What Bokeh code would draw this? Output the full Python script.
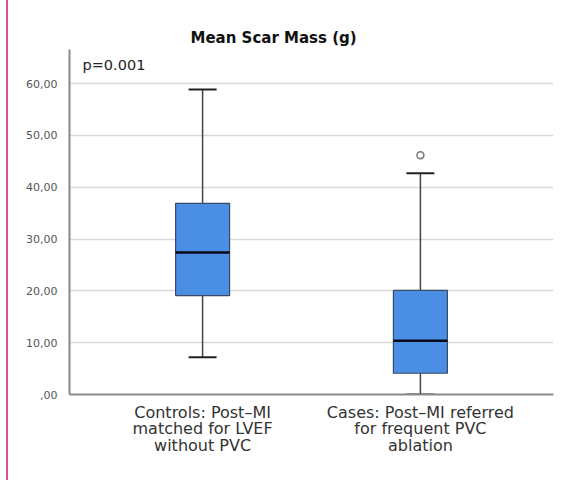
from bokeh.plotting import figure
from bokeh.models import Label, FactorRange, Range1d, Whisker, TeeHead, ColumnDataSource
from bokeh.embed import file_html
from bokeh.resources import INLINE

# ---- data ----
categories = ["Controls: Post\u2013MI\nmatched for LVEF\nwithout PVC",
              "Cases: Post\u2013MI referred\nfor frequent PVC\nablation"]
whisker_low = [7.2, 0.0]
q1 = [19.1, 4.1]
median = [27.4, 10.4]
q3 = [36.9, 20.1]
whisker_high = [58.9, 42.7]
outlier_cat = [categories[1]]
outlier_val = [46.2]
y_ticks = [0, 10, 20, 30, 40, 50, 60]
y_tick_labels = [",00", "10,00", "20,00", "30,00", "40,00", "50,00", "60,00"]
title_text = "Mean Scar Mass (g)"
p_value_text = "p=0.001"

src = ColumnDataSource(dict(cat=categories, low=whisker_low, q1=q1, med=median,
                            q3=q3, high=whisker_high))

p = figure(width=555, height=480, output_backend="svg", toolbar_location=None,
           x_range=FactorRange(factors=categories, range_padding=0.111,
                               range_padding_units="absolute"),
           y_range=Range1d(0, 66.6),
           min_border_left=61, min_border_right=10, min_border_top=49, min_border_bottom=86)
p.styles = {"margin-left": "6px", "border-left": "2px solid #d4529c"}

p.title.text = title_text
p.title.text_font = "DejaVu Sans"
p.title.text_font_size = "15px"
p.title.text_font_style = "bold"
p.title.text_color = "#111111"
p.title.align = "left"
p.title.offset = 121
p.title.standoff = 5

p.outline_line_color = None
p.background_fill_color = "white"
p.xgrid.grid_line_color = None
p.ygrid.grid_line_color = "#dadada"
p.ygrid.grid_line_width = 1.5

p.yaxis.ticker = y_ticks
p.yaxis.major_label_overrides = {t: l for t, l in zip(y_ticks, y_tick_labels)}
p.yaxis.major_tick_line_color = None
p.yaxis.minor_tick_line_color = None
p.yaxis.axis_line_color = "#8a8a8a"
p.yaxis.axis_line_width = 2
p.yaxis.major_label_text_font = "DejaVu Sans"
p.yaxis.major_label_text_font_size = "11px"
p.yaxis.major_label_text_color = "#555555"
p.yaxis.major_label_standoff = 6

p.xaxis.major_tick_line_color = None
p.xaxis.axis_line_color = "#8a8a8a"
p.xaxis.axis_line_width = 2
p.xaxis.major_label_text_font = "DejaVu Sans"
p.xaxis.major_label_text_font_size = "16px"
p.xaxis.major_label_text_color = "#333333"
p.xaxis.major_label_standoff = 2
p.xaxis.major_label_text_line_height = 0.87

# whiskers
up = Whisker(source=src, base="cat", lower="q3", upper="high",
             upper_head=TeeHead(size=28, line_color="#222222", line_width=2),
             lower_head=None, line_color="#444444", line_width=1.5)
lo = Whisker(source=src, base="cat", lower="low", upper="q1",
             lower_head=TeeHead(size=28, line_color="#222222", line_width=2),
             upper_head=None, line_color="#444444", line_width=1.5)
p.add_layout(up)
p.add_layout(lo)

# boxes
p.vbar(x="cat", width=0.248, top="q3", bottom="q1", source=src,
       fill_color="#4a8fe3", line_color="#3a4a66", line_width=1.2)
p.vbar(x="cat", width=0.248, top="med", bottom="med", source=src,
       fill_color=None, line_color="#0a0a1a", line_width=2.5)

# outlier
p.scatter(x=outlier_cat, y=outlier_val, marker="circle", size=7,
          fill_color="white", line_color="#777777", line_width=1.5)

p.add_layout(Label(x=13, y=63.6, x_units="screen", text=p_value_text,
                   text_font="DejaVu Sans", text_font_size="14.5px",
                   text_color="#222222", text_baseline="middle"))

open("out.html", "w").write(file_html(p, INLINE))
